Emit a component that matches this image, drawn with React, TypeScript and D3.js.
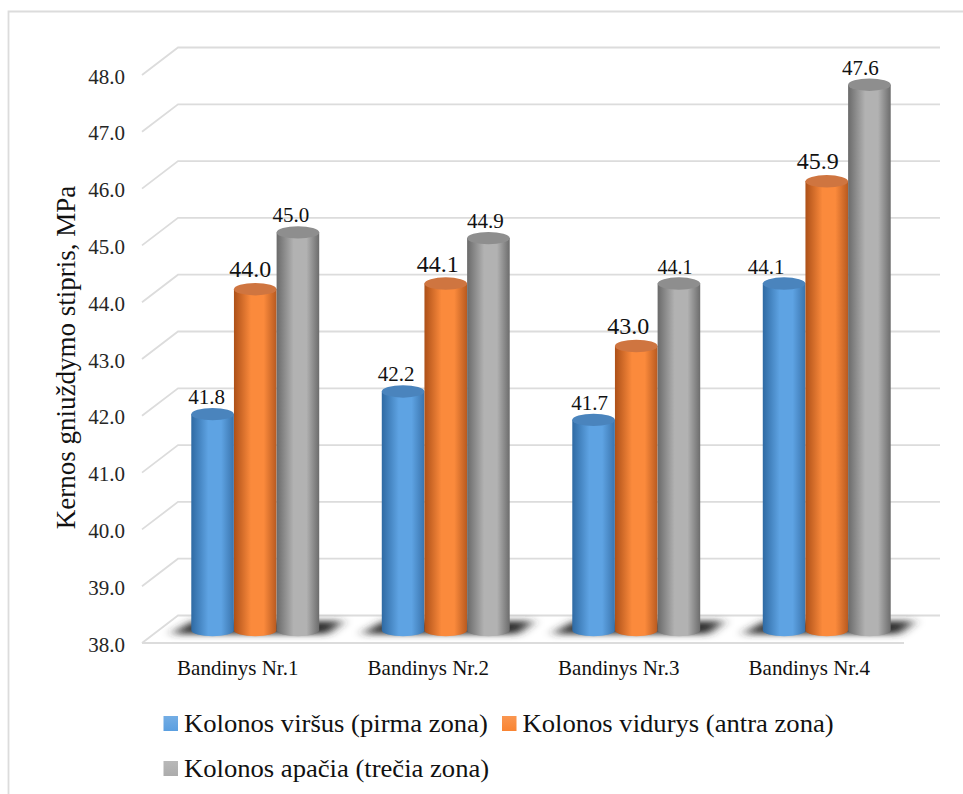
import React from "react";
import * as d3 from "d3";

const categories = ["Bandinys Nr.1", "Bandinys Nr.2", "Bandinys Nr.3", "Bandinys Nr.4"];
const seriesNames = [
  "Kolonos viršus (pirma zona)",
  "Kolonos vidurys (antra zona)",
  "Kolonos apačia (trečia zona)",
];
const virsus = [41.8, 42.2, 41.7, 44.1];
const vidurys = [44.0, 44.1, 43.0, 45.9];
const apacia = [45.0, 44.9, 44.1, 47.6];
const yTicks = [38, 39, 40, 41, 42, 43, 44, 45, 46, 47, 48];

// Value label font sizes and horizontal nudges, per series then per category.
const labelSizes = [
  [21, 21, 21, 21],
  [24, 24, 24, 24],
  [21, 21, 20, 21],
];
const labelNudges = [
  [-6, -7, -4, -18],
  [-5, -8, -8, -9],
  [-7, -3, -4, -9],
];

const serif = "'Liberation Serif', serif";
const seriesValues = [virsus, vidurys, apacia];
const palettes = [
  { stops: ["#2f6aa3", "#5ea3e3", "#3a74ad"], top: "#4a84bd", swatch: "#5b9fe0" },
  { stops: ["#ad5018", "#fb8a3c", "#b85a20"], top: "#cf7540", swatch: "#f98432" },
  { stops: ["#6a6a6a", "#b2b2b2", "#6c6c6c"], top: "#8e8e8e", swatch: "#acacac" },
];

const rx = 21.3;
const ry = 6.2;
const depthX = 36;
const depthY = 27.5;

export default function App() {
  const wallY = d3.scaleLinear().domain([38, 48]).range([615.5, 47.5]);
  const barY = d3.scaleLinear().domain([38, 48]).range([630, 62]);
  const groupX = d3.scaleBand<string>().domain(categories).range([160, 922]);
  const seriesX = d3.scaleBand<number>().domain([0, 1, 2]).range([-64, 64]);
  const wallLeft = 178;
  const wallRight = 940;

  return (
    <svg
      width={963}
      height={794}
      style={{ position: "absolute", left: 0, top: 0, background: "#fff" }}
      fontFamily={serif}
    >
      <defs>
        {palettes.map((p, i) => (
          <linearGradient key={i} id={`cyl-${i}`} x1="0" x2="1" y1="0" y2="0">
            <stop offset="0" stopColor={p.stops[0]} />
            <stop offset="0.4" stopColor={p.stops[1]} />
            <stop offset="0.7" stopColor={p.stops[1]} />
            <stop offset="1" stopColor={p.stops[2]} />
          </linearGradient>
        ))}
        {palettes.map((p, i) => (
          <linearGradient key={i} id={`swatch-${i}`} x1="0" x2="0" y1="0" y2="1">
            <stop offset="0" stopColor={p.swatch} stopOpacity={0.85} />
            <stop offset="1" stopColor={p.swatch} />
          </linearGradient>
        ))}
        <filter id="floor-shadow" x="-20%" y="-100%" width="140%" height="300%">
          <feGaussianBlur stdDeviation="6 3" />
        </filter>
      </defs>

      {/* chart frame: top and left edges only */}
      <path d="M8.5,794L8.5,11.5L963,11.5" fill="none" stroke="#dcdcdc" strokeWidth={1.8} />

      {/* back wall and side wall gridlines */}
      {yTicks.map((t) => {
        const y = wallY(t);
        return (
          <g key={t}>
            <path
              d={`M${wallLeft - depthX},${y + depthY}L${wallLeft},${y}L${wallRight},${y}`}
              fill="none"
              stroke="#dcdcdc"
              strokeWidth={1.8}
            />
            <text x={125} y={y + 36} textAnchor="end" fontSize={21} fill="#262626">
              {t.toFixed(1)}
            </text>
          </g>
        );
      })}
      <path
        d={`M${wallLeft - depthX},${wallY(38) + depthY}L${wallRight - depthX},${wallY(38) + depthY}`}
        fill="none"
        stroke="#dcdcdc"
        strokeWidth={2}
      />

      {/* floor shadows beneath each group */}
      {categories.map((c) => {
        const cx = (groupX(c) as number) + groupX.bandwidth() / 2;
        return (
          <path
            key={c}
            d={`M${cx - 84},${barY(38) + 4}L${cx - 62},${barY(38) - 9}L${cx + 88},${barY(38) - 9}L${cx + 72},${barY(38) + 4}Z`}
            fill="#2e2e2e"
            filter="url(#floor-shadow)"
          />
        );
      })}

      {/* cylinders */}
      {categories.map((c, ci) => {
        const cx = (groupX(c) as number) + groupX.bandwidth() / 2;
        return (
          <g key={c}>
            {seriesValues.map((vals, si) => {
              const center = cx + (seriesX(si) as number) + seriesX.bandwidth() / 2;
              const top = barY(vals[ci]);
              const bottom = barY(38);
              return (
                <g key={si}>
                  <path
                    d={`M${center - rx},${top}L${center - rx},${bottom}A${rx},${ry} 0 0 0 ${center + rx},${bottom}L${center + rx},${top}Z`}
                    fill={`url(#cyl-${si})`}
                  />
                  <ellipse cx={center} cy={top} rx={rx} ry={ry} fill={palettes[si].top} />
                  <text
                    x={center + labelNudges[si][ci]}
                    y={top - (si === 1 ? 12 : 10)}
                    textAnchor="middle"
                    fontSize={labelSizes[si][ci]}
                    fill="#111"
                  >
                    {vals[ci].toFixed(1)}
                  </text>
                </g>
              );
            })}
            <text x={cx - 17.5} y={674.5} textAnchor="middle" fontSize={21} fill="#111">
              {c}
            </text>
          </g>
        );
      })}

      <text
        transform="translate(75,357.5) rotate(-90)"
        textAnchor="middle"
        fontSize={27}
        fill="#111"
      >
        Kernos gniuždymo stipris, MPa
      </text>

      {/* legend */}
      {seriesNames.map((name, i) => {
        const x = [163.5, 502, 163.5][i];
        const y = [732, 732, 777][i];
        return (
          <g key={name}>
            <rect x={x} y={y - 16} width={14.5} height={15} fill={`url(#swatch-${i})`} />
            <text
              transform={`translate(${x + 20.5},${y}) scale(1.065,1)`}
              fontSize={25}
              fill="#111"
            >
              {name}
            </text>
          </g>
        );
      })}
    </svg>
  );
}
